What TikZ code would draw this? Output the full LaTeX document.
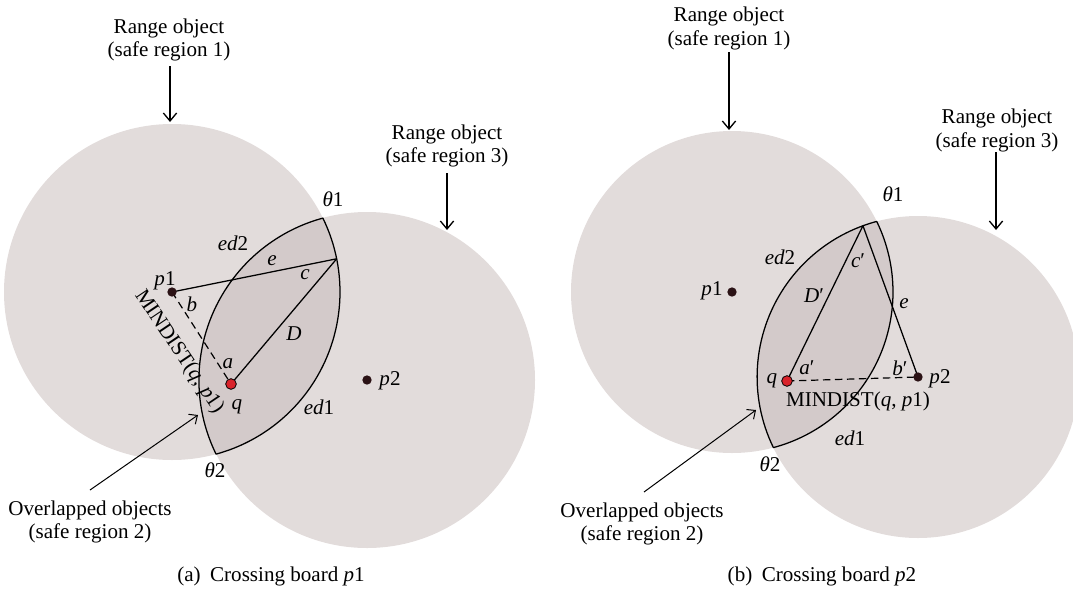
\documentclass[tikz,border=0pt]{standalone}
\usepackage{fontspec}
\setmainfont{Liberation Serif}
\usetikzlibrary{arrows.meta,calc}

\definecolor{regionfill}{HTML}{E2DCDB}
\definecolor{lensfill}{HTML}{D3CACA}
\definecolor{ptdark}{HTML}{2B1215}
\definecolor{qred}{HTML}{D9232B}

\newcommand{\vi}[1]{\textit{#1}}

\tikzset{
  region/.style={fill=regionfill},
  lensarea/.style={fill=lensfill},
  edgeline/.style={line width=0.95pt, line join=round},
  seg/.style={line width=0.95pt},
  mindline/.style={line width=0.9pt, dash pattern=on 5.5pt off 3.5pt},
  dotpt/.style={circle, fill=ptdark, inner sep=0pt, minimum size=7pt},
  qpt/.style={circle, fill=qred, draw=black, line width=0.6pt, inner sep=0pt, minimum size=8pt},
  lbl/.style={font=\fontsize{15.8}{17.5}\selectfont, inner sep=0pt, align=center},
  callout/.style={line width=1pt, -{Straight Barb[length=6pt,width=10pt]}},
  pointer/.style={line width=0.75pt, -{Straight Barb[length=5pt,width=9pt]}},
}

\begin{document}
\begin{tikzpicture}[x=0.75pt,y=-0.75pt]
\clip (0,0) rectangle (1073,589);

% ---------------- (a) crossing board p1 ----------------
\coordinate (A1) at (172,292);
\coordinate (A3) at (367,380);
\coordinate (Aq) at (231,384);
\coordinate (AC) at ($(A1)+(-11.4:168)$);

\fill[region] (A1) circle[radius=168];
\fill[region] (A3) circle[radius=168];
\begin{scope}
  \clip (A1) circle[radius=168];
  \fill[lensarea] (A3) circle[radius=168];
\end{scope}
\draw[edgeline] ($(A1)+(-26.1:168)$) arc[start angle=-26.1,end angle=74.8,radius=168]
  arc[start angle=153.9,end angle=254.8,radius=168] -- cycle;

\draw[seg] (A1) -- (AC);
\draw[seg] (Aq) -- (AC);
\draw[mindline] (A1) -- (Aq);

\node[dotpt] (ap1) at (A1) {};
\node[dotpt] (ap2) at (A3) {};
\node[qpt] (aq) at (Aq) {};

\node[lbl] (ar1) at (169,40) {Range object\\(safe region 1)};
\coordinate (ar1s) at (170,66);
\coordinate (ar1e) at (170,122);
\draw[callout] (ar1s) -- (ar1e);

\node[lbl] (ar3) at (447,146) {Range object\\(safe region 3)};
\coordinate (ar3s) at (447,173);
\coordinate (ar3e) at (447,230);
\draw[callout] (ar3s) -- (ar3e);

\node[lbl] (at1) at (333,199) {\vi{θ}1};
\node[lbl] (aed2) at (233,243) {\vi{ed}2};
\node[lbl] (ae) at (272,261) {\vi{e}};
\node[lbl] (ac) at (305,275) {\vi{c}};
\node[lbl] (ap1l) at (165,281) {\vi{p}1};
\node[lbl] (ab) at (192,304) {\vi{b}};
\node[lbl] (aD) at (294,334) {\vi{D}};
\node[lbl] (aa) at (228,364) {\vi{a}};
\node[lbl] (aql) at (237,407) {\vi{q}};
\node[lbl, rotate=-56] (amd) at (179,352) {MINDIST(\vi{q}, \vi{p}1)};
\node[lbl] (aed1) at (319,407) {\vi{ed}1};
\node[lbl] (ap2l) at (390,381) {\vi{p}2};
\node[lbl] (at2) at (215,470) {\vi{θ}2};

\node[lbl] (aov) at (90,522) {Overlapped objects\\(safe region 2)};
\coordinate (aovs) at (90,490);
\coordinate (aove) at (198,415);
\draw[pointer] (aovs) -- (aove);

\node[lbl] (acap) at (271,576) {(a)\hspace{0.45em}Crossing board \vi{p}1};

% ---------------- (b) crossing board p2 ----------------
\coordinate (B1) at (732,292);
\coordinate (B3) at (918,377);
\coordinate (Bq) at (787,381);
\coordinate (BC) at ($(B3)+(250:161)$);

\fill[region] (B1) circle[radius=161];
\fill[region] (B3) circle[radius=161];
\begin{scope}
  \clip (B1) circle[radius=161];
  \fill[lensarea] (B3) circle[radius=161];
\end{scope}
\draw[edgeline] ($(B1)+(-26.0:161)$) arc[start angle=-26.0,end angle=75.1,radius=161]
  arc[start angle=154.0,end angle=255.1,radius=161] -- cycle;

\draw[seg] (Bq) -- (BC);
\draw[seg] (BC) -- (B3);
\draw[mindline] (Bq) -- (B3);

\node[dotpt] (bp1) at (B1) {};
\node[dotpt] (bp2) at (B3) {};
\node[qpt] (bq) at (Bq) {};

\node[lbl] (br1) at (729,28.5) {Range object\\(safe region 1)};
\coordinate (br1s) at (729,52);
\coordinate (br1e) at (729,130);
\draw[callout] (br1s) -- (br1e);

\node[lbl] (br3) at (997,130.5) {Range object\\(safe region 3)};
\coordinate (br3s) at (996,152);
\coordinate (br3e) at (996,230);
\draw[callout] (br3s) -- (br3e);

\node[lbl] (bt1) at (893,194) {\vi{θ}1};
\node[lbl] (bed2) at (780,257) {\vi{ed}2};
\node[lbl] (bc) at (858,261) {\vi{c}′};
\node[lbl] (bD) at (814,296) {\vi{D}′};
\node[lbl] (bp1l) at (712,291) {\vi{p}1};
\node[lbl] (be) at (904,304) {\vi{e}};
\node[lbl] (ba) at (807,368) {\vi{a}′};
\node[lbl] (bb) at (900,368) {\vi{b}′};
\node[lbl] (bql) at (772,381) {\vi{q}};
\node[lbl] (bp2l) at (940,379) {\vi{p}2};
\node[lbl] (bmd) at (858,401) {MINDIST(\vi{q}, \vi{p}1)};
\node[lbl] (bed1) at (850,438) {\vi{ed}1};
\node[lbl] (bt2) at (770,464) {\vi{θ}2};

\node[lbl] (bov) at (642,524) {Overlapped objects\\(safe region 2)};
\coordinate (bovs) at (644,492);
\coordinate (bove) at (756,410);
\draw[pointer] (bovs) -- (bove);

\node[lbl] (bcap) at (822,576) {(b)\hspace{0.45em}Crossing board \vi{p}2};
\end{tikzpicture}
\end{document}
